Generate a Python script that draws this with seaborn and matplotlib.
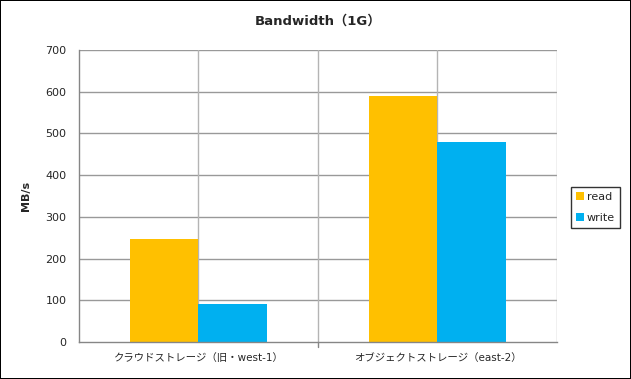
import matplotlib
matplotlib.use("Agg")
import matplotlib.pyplot as plt
import seaborn as sns
import pandas as pd

# データ
categories = ["クラウドストレージ（旧・west-1）", "オブジェクトストレージ（east-2）"]
series = ["read", "write"]
read_vals = [247, 590]
write_vals = [91, 480]
colors = ["#FFC000", "#00B0F0"]

df = pd.DataFrame({
    "storage": categories * 2,
    "kind": ["read"] * 2 + ["write"] * 2,
    "MB/s": read_vals + write_vals,
})

sns.set_style("white")
plt.rcParams['font.family'] = ['DejaVu Sans', 'Noto Sans CJK JP']

fig = plt.figure(figsize=(6.31, 3.79), dpi=100, linewidth=1.2, edgecolor='black')
ax = fig.add_axes([0.1252, 0.0976, 0.7575, 0.7704])

sns.barplot(data=df, x="storage", y="MB/s", hue="kind", hue_order=series,
            palette=colors, width=0.573, gap=0, saturation=1, linewidth=0, ax=ax)

ax.set_ylim(0, 700)
ax.set_xlim(-0.5, 1.5)
ax.set_yticks(range(0, 701, 100))
ax.tick_params(axis='y', labelsize=8, length=4, color='#868686', pad=5)
ax.tick_params(axis='x', labelsize=7.5, length=0, pad=8)
ax.set_xlabel("")
ax.set_ylabel("MB/s", fontsize=8, fontweight='bold', labelpad=10)

# 罫線
for y in range(100, 701, 100):
    ax.axhline(y, color='#999999', lw=1, zorder=0)
for x in [0, 0.5, 1, 1.5]:
    ax.axvline(x, color='#B4B4B4', lw=1, zorder=0)
ax.plot([0.5, 0.5], [0, -12], color='#868686', lw=1, clip_on=False)

for s in ["top", "right"]:
    ax.spines[s].set_visible(False)
for s in ["left", "bottom"]:
    ax.spines[s].set_color('#868686')
    ax.spines[s].set_linewidth(1)

ax.set_title("Bandwidth（1G）", fontsize=9.5, fontweight='bold', pad=18)

leg = ax.legend(loc='center left', bbox_to_anchor=(1.03, 0.46), fontsize=8,
                frameon=True, fancybox=False, edgecolor='black',
                handlelength=0.7, handleheight=0.7, handletextpad=0.25,
                labelspacing=1.0, borderpad=0.45, borderaxespad=0)
leg.get_frame().set_linewidth(1)

fig.savefig("out.png", dpi=100, edgecolor=fig.get_edgecolor())
